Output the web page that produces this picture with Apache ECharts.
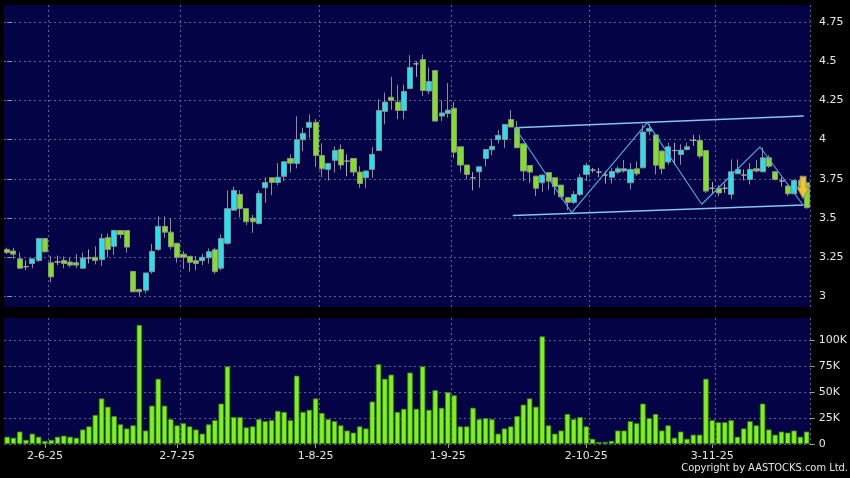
<!DOCTYPE html>
<html><head><meta charset="utf-8">
<script src="https://cdn.jsdelivr.net/npm/echarts@6/dist/echarts.min.js"></script>
<style>html,body{margin:0;padding:0;background:#000;}#c{width:850px;height:478px;}</style>
</head><body><div id="c"></div>
<script>
// ---- data ----
const categories = [
'23-5-25','26-5-25','27-5-25','28-5-25','29-5-25','30-5-25',
'2-6-25','3-6-25','4-6-25','5-6-25','6-6-25','9-6-25','10-6-25','11-6-25','12-6-25','13-6-25','16-6-25','17-6-25','18-6-25','19-6-25','20-6-25','23-6-25','24-6-25','25-6-25','26-6-25','27-6-25','30-6-25',
'2-7-25','3-7-25','4-7-25','7-7-25','8-7-25','9-7-25','10-7-25','11-7-25','14-7-25','15-7-25','16-7-25','17-7-25','18-7-25','21-7-25','22-7-25','23-7-25','24-7-25','25-7-25','28-7-25','29-7-25','30-7-25','31-7-25',
'1-8-25','4-8-25','5-8-25','6-8-25','7-8-25','8-8-25','11-8-25','12-8-25','13-8-25','14-8-25','15-8-25','18-8-25','19-8-25','20-8-25','21-8-25','22-8-25','25-8-25','26-8-25','27-8-25','28-8-25','29-8-25',
'1-9-25','2-9-25','3-9-25','4-9-25','5-9-25','8-9-25','9-9-25','10-9-25','11-9-25','12-9-25','15-9-25','16-9-25','17-9-25','18-9-25','19-9-25','22-9-25','23-9-25','24-9-25','25-9-25','26-9-25','29-9-25','30-9-25',
'2-10-25','3-10-25','6-10-25','8-10-25','9-10-25','10-10-25','13-10-25','14-10-25','15-10-25','16-10-25','17-10-25','20-10-25','21-10-25','22-10-25','23-10-25','24-10-25','27-10-25','28-10-25','30-10-25','31-10-25',
'3-11-25','4-11-25','5-11-25','6-11-25','7-11-25','10-11-25','11-11-25','12-11-25','13-11-25','14-11-25','17-11-25','18-11-25','19-11-25','20-11-25','21-11-25','24-11-25'
];
const tickLabels = ['2-6-25','2-7-25','1-8-25','1-9-25','2-10-25','3-11-25'];
const priceTicks = [3, 3.25, 3.5, 3.75, 4, 4.25, 4.5, 4.75];
const volumeTicks = [0, 25000, 50000, 75000, 100000];

const openP = [
3.30,3.29,3.24,3.19,3.21,3.23,3.37,3.215,3.22,3.23,
3.22,3.215,3.18,3.245,3.25,3.235,3.375,3.32,3.42,3.42,
3.16,3.045,3.04,3.158,3.30,3.447,3.41,3.339,3.27,3.256,
3.228,3.228,3.247,3.298,3.18,3.339,3.55,3.65,3.56,3.50,
3.466,3.693,3.757,3.727,3.766,3.88,3.848,3.999,4.078,4.11,
3.899,3.81,3.868,3.937,3.863,3.88,3.793,3.757,3.81,3.93,
4.18,4.27,4.239,4.186,4.326,4.483,4.51,4.31,4.44,4.15,
4.167,4.20,3.954,3.838,3.757,3.795,3.88,3.935,4.0,4.0,
4.128,4.075,3.973,3.835,3.767,3.725,3.79,3.757,3.71,3.63,
3.60,3.65,3.778,3.806,3.793,3.774,3.76,3.793,3.80,3.725,
3.814,3.82,4.054,4.03,3.927,3.857,3.93,3.905,3.937,3.995,
3.995,3.93,3.69,3.69,3.69,3.651,3.782,3.774,3.746,3.814,
3.795,3.884,3.795,3.736,3.704,3.655,3.74,3.725
];
const closeP = [
3.28,3.27,3.18,3.19,3.24,3.37,3.285,3.125,3.22,3.21,
3.20,3.20,3.245,3.245,3.23,3.37,3.30,3.42,3.395,3.315,
3.03,3.03,3.15,3.288,3.447,3.41,3.317,3.25,3.25,3.218,
3.21,3.25,3.285,3.158,3.37,3.56,3.676,3.56,3.476,3.476,
3.657,3.727,3.727,3.76,3.859,3.85,3.999,4.04,4.11,3.899,
3.814,3.848,3.93,3.838,3.863,3.793,3.72,3.80,3.906,4.186,
4.239,4.25,4.186,4.307,4.46,4.483,4.313,4.37,4.118,4.17,
4.188,3.92,3.838,3.778,3.757,3.827,3.937,3.957,4.027,4.097,
4.08,3.948,3.80,3.793,3.69,3.774,3.735,3.70,3.635,3.60,
3.65,3.757,3.836,3.806,3.793,3.774,3.797,3.814,3.814,3.81,
3.782,4.048,4.07,3.837,3.814,3.954,3.93,3.933,3.954,3.995,
3.895,3.672,3.69,3.66,3.69,3.795,3.81,3.774,3.81,3.80,
3.884,3.83,3.746,3.736,3.655,3.74,3.70,3.566
];
const lowP = [
3.27,3.24,3.18,3.17,3.18,3.22,3.28,3.09,3.20,3.18,
3.185,3.18,3.18,3.21,3.205,3.195,3.25,3.265,3.37,3.28,
3.03,3.00,3.02,3.145,3.29,3.375,3.30,3.215,3.177,3.16,
3.167,3.20,3.21,3.145,3.165,3.33,3.55,3.506,3.455,3.406,
3.46,3.597,3.646,3.71,3.735,3.79,3.817,3.927,4.01,3.825,
3.76,3.74,3.79,3.81,3.767,3.767,3.693,3.693,3.757,3.93,
4.097,4.19,4.13,4.13,4.32,4.40,4.277,4.29,4.118,4.118,
4.14,3.884,3.79,3.746,3.676,3.693,3.83,3.90,3.976,3.948,
4.08,3.948,3.736,3.725,3.64,3.667,3.68,3.646,3.62,3.55,
3.59,3.64,3.735,3.79,3.76,3.72,3.72,3.78,3.79,3.683,
3.77,3.82,4.03,3.778,3.78,3.84,3.84,3.84,3.93,3.96,
3.88,3.66,3.66,3.64,3.66,3.62,3.78,3.74,3.714,3.79,
3.795,3.82,3.74,3.70,3.64,3.655,3.68,3.56
];
const highP = [
3.31,3.31,3.28,3.23,3.24,3.37,3.37,3.26,3.26,3.255,
3.25,3.27,3.28,3.30,3.32,3.40,3.40,3.42,3.42,3.42,
3.16,3.05,3.15,3.336,3.51,3.51,3.50,3.339,3.29,3.256,
3.258,3.27,3.306,3.31,3.396,3.676,3.70,3.676,3.56,3.52,
3.676,3.76,3.757,3.85,3.863,3.906,4.148,4.075,4.16,4.13,
3.976,3.848,3.957,3.97,3.906,3.88,3.83,3.80,3.952,4.256,
4.30,4.40,4.35,4.35,4.538,4.50,4.543,4.46,4.44,4.25,
4.36,4.24,3.954,3.838,3.793,3.827,3.937,4.005,4.06,4.097,
4.188,4.118,3.973,3.835,3.767,3.774,3.79,3.757,3.71,3.63,
3.672,3.78,3.852,3.82,3.82,3.80,3.82,3.83,3.87,3.85,
3.86,4.097,4.10,4.03,3.93,3.98,3.98,3.97,3.98,4.03,
4.03,3.93,3.73,3.71,3.72,3.874,3.874,3.81,3.85,3.87,
3.948,3.90,3.80,3.76,3.71,3.745,3.76,3.725
];
const volumeK = [
7,6,12,4,10,7,3,4,7,8,
7,6,14,17,28,44,36,27,19,15,
18,115,13,37,63,37,24,18,20,17,
14,10,19,23,39,75,26,26,16,17,
24,22,23,32,31,23,66,31,33,44,
30,24,22,18,13,11,17,15,41,77,
63,67,31,34,69,34,75,33,52,35,
50,47,17,17,35,24,25,24,10,15,
17,27,38,44,36,104,18,10,13,29,
24,26,17,5,2,2,3,13,13,22,
20,39,25,29,13,18,6,12,5,9,
9,63,23,21,21,23,7,15,22,18,
39,14,9,12,11,13,7,12
];
// trend-line annotations: [bar position, price]
const channelUpper = [[80.65, 4.076], [126.5, 4.151]];
const channelLower = [[80.3, 3.516], [126.5, 3.583]];
const zigzag = [[80.65, 4.076], [89.65, 3.534], [101.66, 4.108], [110.3, 3.588], [119.56, 3.953], [126.4, 3.583]];
const signalPoint = [126.4, 3.695];

// ---- chart ----
const ohlc = openP.map((o, i) => [o, closeP[i], lowP[i], highP[i]]);
const volumes = volumeK.map(v => v * 1000);
const labelSet = new Set(tickLabels);
const labelIdx = categories.map((d, i) => labelSet.has(d) ? i : -1).filter(i => i >= 0);
const splitIdx = new Set(labelIdx.map(i => i + 1));
const gridColor = '#5b6092';
const navy = '#030346';
const font = 'DejaVu Sans';

const chart = echarts.init(document.getElementById('c'), null, {renderer: 'canvas', width: 850, height: 478});
chart.setOption({
  backgroundColor: '#000',
  animation: false,
  grid: [
    {left: 4, top: 5, width: 806, height: 302, show: true, backgroundColor: navy, borderWidth: 0},
    {left: 4, top: 318, width: 806, height: 126, show: true, backgroundColor: navy, borderWidth: 0}
  ],
  xAxis: [
    {type: 'category', gridIndex: 0, data: categories, boundaryGap: true,
     axisLine: {show: false}, axisTick: {show: false}, axisLabel: {show: false},
     splitLine: {show: true, interval: (i) => splitIdx.has(i), lineStyle: {color: gridColor, type: [2, 3], width: 1}}},
    {type: 'category', gridIndex: 1, data: categories, boundaryGap: true,
     axisLine: {show: false},
     axisTick: {show: true, alignWithLabel: true, interval: (i) => labelSet.has(categories[i]), length: 4, lineStyle: {color: '#9a9a9a'}},
     axisLabel: {show: true, interval: (i) => labelSet.has(categories[i]), color: '#e6e6e6', fontFamily: font, fontSize: 11, margin: 7},
     splitLine: {show: true, interval: (i) => splitIdx.has(i), lineStyle: {color: gridColor, type: [2, 3], width: 1}}},
    {type: 'value', gridIndex: 0, min: -0.5, max: categories.length - 0.5, show: false}
  ],
  yAxis: [
    {type: 'value', gridIndex: 0, position: 'right', min: 2.933, max: 4.858,
     axisLine: {show: false},
     axisTick: {show: true, customValues: priceTicks, length: 5, lineStyle: {color: '#9a9a9a'}},
     axisLabel: {customValues: priceTicks, color: '#e6e6e6', fontFamily: font, fontSize: 11, margin: 9},
     splitLine: {show: true, lineStyle: {color: gridColor, type: [2, 3], width: 1}}},
    {type: 'value', gridIndex: 1, position: 'right', min: 0, max: 121700,
     axisLine: {show: false},
     axisTick: {show: true, customValues: volumeTicks, length: 5, lineStyle: {color: '#9a9a9a'}},
     axisLabel: {customValues: volumeTicks, color: '#e6e6e6', fontFamily: font, fontSize: 11, margin: 9,
                 formatter: (v) => v === 0 ? '0' : (v / 1000) + 'K'},
     splitLine: {show: true, lineStyle: {color: gridColor, type: [2, 3], width: 1}}}
  ],
  series: [
    {type: 'line', xAxisIndex: 2, yAxisIndex: 0, data: channelUpper, symbol: 'none', silent: true,
     lineStyle: {color: '#86c4f0', width: 1.5}},
    {type: 'line', xAxisIndex: 2, yAxisIndex: 0, data: channelLower, symbol: 'none', silent: true,
     lineStyle: {color: '#86c4f0', width: 1.5}},
    {type: 'candlestick', xAxisIndex: 0, yAxisIndex: 0, data: ohlc, barWidth: 5.6, z: 3,
     itemStyle: {color: '#1fe3ee', color0: '#80e21e', borderColor: '#8f8f8f', borderColor0: '#8f8f8f',
                 borderColorDoji: '#a8a8a8', borderWidth: 1}},
    {type: 'line', xAxisIndex: 2, yAxisIndex: 0, data: zigzag, symbol: 'none', silent: true, z: 4,
     lineStyle: {color: '#4fadec', width: 1.1},
     markPoint: {silent: true, data: [{coord: signalPoint, symbol: 'path://M3,0 L9,0 L9,10 L12,10 L6,20 L0,10 L3,10 Z',
       symbolSize: [12, 22], itemStyle: {color: '#f6c41c', borderColor: '#8a8a8a', borderWidth: 1}, label: {show: false}}]}},
    {type: 'bar', xAxisIndex: 1, yAxisIndex: 1, data: volumes, barWidth: 5.4,
     itemStyle: {color: '#7ff21c', borderColor: '#3c8a10', borderWidth: 0.8}}
  ],
  graphic: [
    {type: 'text', right: 2, top: 463, silent: true,
     style: {text: 'Copyright by AASTOCKS.com Ltd.', fill: '#e6e6e6', font: '11px "DejaVu Sans Condensed", "DejaVu Sans"'}}
  ]
});
</script></body></html>
